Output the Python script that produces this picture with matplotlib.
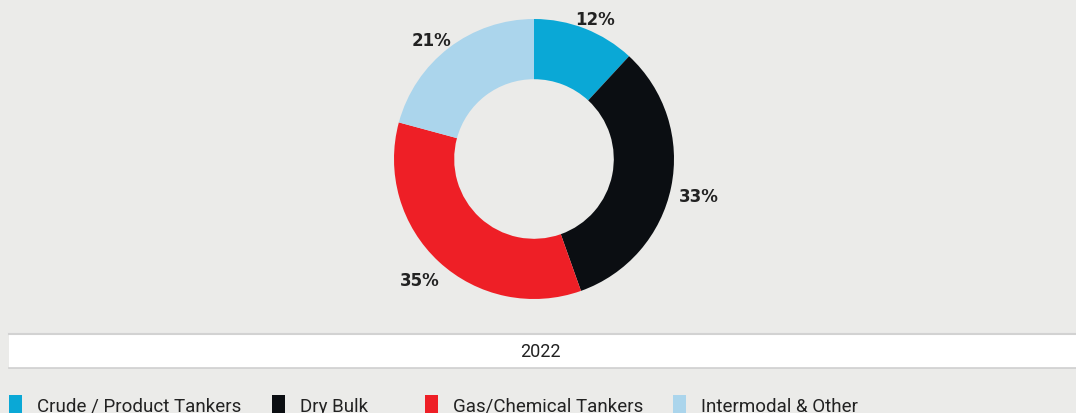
import numpy as np
import matplotlib.pyplot as plt
from matplotlib.patches import Rectangle

# data
categories = ['Crude / Product Tankers', 'Dry Bulk', 'Gas/Chemical Tankers', 'Intermodal & Other']
shares = [12, 33, 35, 21]
colors = ['#0AA8D6', '#0B0E12', '#EE1F26', '#ABD5EC']
year_label = '2022'

BG = '#EBEBE9'
W, H = 1076, 414

fig = plt.figure(figsize=(W / 100, H / 100), dpi=100, facecolor=BG)

# donut axes: centre (534, 160) px, outer radius 140 px
cx, cy, r = 534, 160, 140
ax = fig.add_axes([(cx - r) / W, (H - cy - r) / H, 2 * r / W, 2 * r / H])
ax.set_facecolor(BG)
wedges, texts = ax.pie(shares, colors=colors, startangle=90, counterclock=False,
                       radius=1, labels=[f'{s}%' for s in shares],
                       wedgeprops=dict(width=0.43, linewidth=0))

# put the percentage labels on a slightly wide ellipse around the ring
for w, t in zip(wedges, texts):
    mid = np.deg2rad((w.theta1 + w.theta2) / 2)
    t.set_position((1.2 * np.cos(mid), 1.12 * np.sin(mid) - 0.04))
    t.set_ha('center')
    t.set_va('center')
    t.set_fontfamily('DejaVu Sans')
    t.set_fontweight('bold')
    t.set_fontsize(12)
    t.set_color('#222222')
ax.set_xlim(-1, 1)
ax.set_ylim(-1, 1)
ax.set_aspect('equal')
ax.axis('off')

# year band
band_top, band_bot = 335, 369
fig.patches.append(Rectangle((9 / W, (H - band_bot) / H), 1, (band_bot - band_top) / H,
                             transform=fig.transFigure, facecolor='white',
                             edgecolor='none', zorder=0))
fig.add_artist(plt.Line2D([9 / W, 1], [(H - band_top) / H] * 2, color='#D2D2D2', lw=1.5,
                          transform=fig.transFigure))
fig.add_artist(plt.Line2D([9 / W, 1], [(H - band_bot) / H] * 2, color='#CFCFCF', lw=1.2,
                          transform=fig.transFigure))
fig.text(540 / W, (H - 352) / H, year_label, ha='center', va='center', fontsize=13,
         color='#222222', family='Roboto')

# legend (bottom, partially cut off like the source)
legend_x = [9, 272, 425, 673]
for x, lab, c in zip(legend_x, categories, colors):
    fig.patches.append(Rectangle((x / W, (H - 414) / H), 13 / W, 18 / H,
                                 transform=fig.transFigure, facecolor=c, edgecolor='none'))
    fig.text((x + 28) / W, (H - 407) / H, lab, ha='left', va='center', fontsize=13.5,
             color='#222222', family='Roboto')

fig.savefig('out.png', dpi=100, facecolor=BG)
